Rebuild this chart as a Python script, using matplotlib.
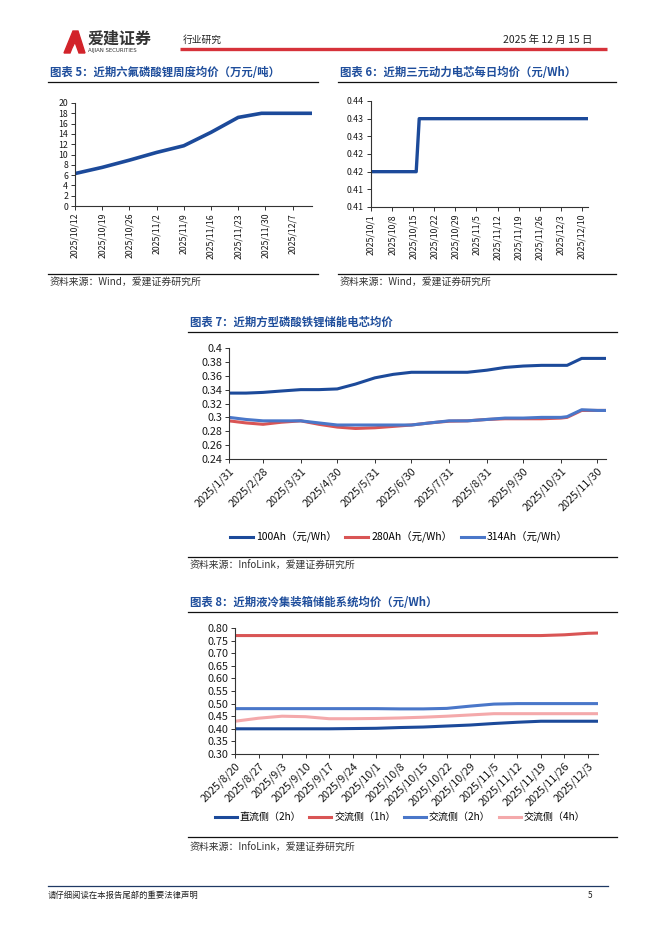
import datetime as dt
import matplotlib
matplotlib.use("Agg")
import matplotlib.pyplot as plt
from matplotlib.patches import Polygon
from matplotlib.ticker import FixedLocator, FixedFormatter

plt.rcParams['font.family'] = ['Noto Sans CJK SC', 'DejaVu Sans']

W, H = 662, 936
TITLE_BLUE = "#1f4e9c"

# ---------- data ----------
# chart 5: LiPF6 weekly price (10k yuan / t)
c5_dates = ["2025-10-12", "2025-10-19", "2025-10-26", "2025-11-02", "2025-11-09",
            "2025-11-16", "2025-11-23", "2025-11-29", "2025-12-07", "2025-12-12"]
c5_values = [6.3, 7.5, 8.9, 10.4, 11.7, 14.3, 17.2, 18.0, 18.0, 18.0]
c5_ticks = ["2025-10-12", "2025-10-19", "2025-10-26", "2025-11-02", "2025-11-09",
            "2025-11-16", "2025-11-23", "2025-11-30", "2025-12-07"]

# chart 6: NCM power cell daily price (yuan / Wh)
c6_dates = ["2025-10-01", "2025-10-16", "2025-10-17", "2025-12-12"]
c6_values = [0.42, 0.42, 0.435, 0.435]
c6_ticks = ["2025-10-01", "2025-10-08", "2025-10-15", "2025-10-22", "2025-10-29",
            "2025-11-05", "2025-11-12", "2025-11-19", "2025-11-26", "2025-12-03",
            "2025-12-10"]
c6_yticks = [0.41, 0.415, 0.42, 0.425, 0.43, 0.435, 0.44]

# chart 7: LFP storage cells (yuan / Wh)
c7_dates = ["2025-01-31", "2025-02-14", "2025-02-28", "2025-03-15", "2025-03-31",
            "2025-04-15", "2025-04-30", "2025-05-15", "2025-05-31", "2025-06-15",
            "2025-06-30", "2025-07-15", "2025-07-31", "2025-08-15", "2025-08-31",
            "2025-09-15", "2025-09-30", "2025-10-15", "2025-10-31", "2025-11-05",
            "2025-11-11", "2025-11-17", "2025-11-30", "2025-12-07"]
c7_100ah = [0.335, 0.335, 0.336, 0.338, 0.340, 0.340, 0.341, 0.348, 0.357, 0.362,
            0.365, 0.365, 0.365, 0.365, 0.368, 0.372, 0.374, 0.375, 0.375, 0.375,
            0.380, 0.385, 0.385, 0.385]
c7_280ah = [0.295, 0.292, 0.290, 0.293, 0.295, 0.290, 0.286, 0.284, 0.285, 0.287,
            0.289, 0.292, 0.2945, 0.295, 0.297, 0.298, 0.298, 0.298, 0.299, 0.300,
            0.305, 0.310, 0.310, 0.310]
c7_314ah = [0.300, 0.297, 0.295, 0.295, 0.295, 0.292, 0.289, 0.289, 0.289, 0.289,
            0.289, 0.292, 0.295, 0.295, 0.297, 0.299, 0.299, 0.300, 0.300, 0.301,
            0.306, 0.311, 0.310, 0.310]
c7_ticks = ["2025-01-31", "2025-02-28", "2025-03-31", "2025-04-30", "2025-05-31",
            "2025-06-30", "2025-07-31", "2025-08-31", "2025-09-30", "2025-10-31",
            "2025-11-30"]
c7_labels = ["100Ah（元/Wh）", "280Ah（元/Wh）", "314Ah（元/Wh）"]

# chart 8: liquid-cooled container ESS (yuan / Wh)
c8_dates = ["2025-08-20", "2025-08-27", "2025-09-03", "2025-09-10", "2025-09-17",
            "2025-09-24", "2025-10-01", "2025-10-08", "2025-10-15", "2025-10-22",
            "2025-10-29", "2025-11-05", "2025-11-12", "2025-11-19", "2025-11-26",
            "2025-12-03", "2025-12-06"]
c8_dc2h = [0.40, 0.40, 0.40, 0.40, 0.40, 0.401, 0.402, 0.405, 0.407, 0.411,
           0.415, 0.421, 0.426, 0.430, 0.430, 0.430, 0.430]
c8_ac1h = [0.77, 0.77, 0.77, 0.77, 0.77, 0.77, 0.77, 0.77, 0.77, 0.77,
           0.77, 0.77, 0.77, 0.77, 0.773, 0.779, 0.78]
c8_ac2h = [0.48, 0.48, 0.48, 0.48, 0.48, 0.48, 0.48, 0.479, 0.479, 0.481,
           0.490, 0.498, 0.500, 0.500, 0.500, 0.500, 0.500]
c8_ac4h = [0.43, 0.442, 0.450, 0.448, 0.440, 0.440, 0.441, 0.443, 0.446, 0.450,
           0.455, 0.460, 0.460, 0.460, 0.460, 0.460, 0.460]
c8_labels = ["直流侧（2h）", "交流侧（1h）", "交流侧（2h）", "交流侧（4h）"]


def d(s):
    return dt.datetime.strptime(s, "%Y-%m-%d")


def lab(s):
    t = d(s)
    return f"{t.year}/{t.month}/{t.day}"


def px_axes(fig, x0, y0, x1, y1):
    return fig.add_axes([x0 / W, 1 - y1 / H, (x1 - x0) / W, (y1 - y0) / H])


def style(ax, fs):
    for s in ["top", "right"]:
        ax.spines[s].set_visible(False)
    for s in ["left", "bottom"]:
        ax.spines[s].set_color("#333333")
        ax.spines[s].set_linewidth(0.8)
    ax.tick_params(axis="both", direction="out", length=3, width=0.7,
                   colors="#333333", labelcolor="#1a1a1a", labelsize=fs, pad=2)


fig = plt.figure(figsize=(W / 100, H / 100), dpi=100)

# page overlay in pixel coordinates
bg = fig.add_axes([0, 0, 1, 1])
bg.set_xlim(0, W)
bg.set_ylim(H, 0)
bg.axis("off")

# header
bg.add_patch(Polygon([(64, 53), (73, 31), (78, 31), (85, 53), (79, 53), (75, 42),
                      (72, 48), (70, 53)], closed=True, color="#d2232a"))
bg.text(88, 39, "爱建证券", fontsize=11.5, fontweight="bold", color="#333333",
        va="center", ha="left")
bg.text(88, 50.5, "AIJIAN SECURITIES", fontsize=3.9, color="#333333", va="center",
        ha="left", family="DejaVu Sans")
bg.text(183, 40, "行业研究", fontsize=7, color="#222222", va="center")
bg.text(592, 40, "2025 年 12 月 15 日", fontsize=7.5, color="#222222", va="center",
        ha="right")
bg.plot([180, 607], [48.5, 48.5], color="#d6323a", lw=2.4, solid_capstyle="butt")

# footer
bg.plot([48, 608], [886, 886], color="#1f3864", lw=0.9)
bg.text(48, 895, "请仔细阅读在本报告尾部的重要法律声明", fontsize=6, color="#222222",
        va="center")
bg.text(592, 895, "5", fontsize=6, color="#222222", va="center", ha="right")

# titles, rules and sources
blocks = [
    (50, 73, 48, 318, 82, 274, 282, "图表 5：近期六氟磷酸锂周度均价（万元/吨）", "Wind"),
    (340, 73, 338, 616, 82, 274, 282, "图表 6：近期三元动力电芯每日均价（元/Wh）", "Wind"),
    (190, 322, 188, 617, 332, 557, 566, "图表 7：近期方型磷酸铁锂储能电芯均价", "InfoLink"),
    (190, 602, 188, 617, 612, 837, 848, "图表 8：近期液冷集装箱储能系统均价（元/Wh）", "InfoLink"),
]
for tx, ty, lx0, lx1, ly, sy, sty, title, src in blocks:
    bg.text(tx, ty, title, fontsize=8.2, fontweight="bold", color=TITLE_BLUE,
            va="center", ha="left")
    bg.plot([lx0, lx1], [ly, ly], color="#111111", lw=0.9)
    bg.plot([lx0, lx1], [sy, sy], color="#111111", lw=0.9)
    bg.text(tx, sty, f"资料来源：{src}，爱建证券研究所", fontsize=7.1, color="#333333",
            va="center", ha="left")

# ---------- chart 5 ----------
ax5 = px_axes(fig, 75, 103, 312, 206)
ax5.plot([d(s) for s in c5_dates], c5_values, color="#1c4a9a", lw=2.6)
ax5.set_xlim(d(c5_dates[0]), d(c5_dates[-1]))
ax5.set_ylim(0, 20)
ax5.set_yticks(range(0, 21, 2))
ax5.set_xticks([d(s) for s in c5_ticks])
ax5.set_xticklabels([lab(s) for s in c5_ticks], rotation=90)
style(ax5, 6.3)

# ---------- chart 6 ----------
ax6 = px_axes(fig, 371, 101, 588, 207)
ax6.plot([d(s) for s in c6_dates], c6_values, color="#1c4a9a", lw=2.4)
ax6.set_xlim(d(c6_dates[0]), d(c6_dates[-1]))
ax6.set_ylim(0.41, 0.44)
ax6.yaxis.set_major_locator(FixedLocator(c6_yticks))
ax6.yaxis.set_major_formatter(FixedFormatter(["%.2f" % v for v in c6_yticks]))
ax6.set_xticks([d(s) for s in c6_ticks])
ax6.set_xticklabels([lab(s) for s in c6_ticks], rotation=90)
style(ax6, 6.3)

# ---------- chart 7 ----------
ax7 = px_axes(fig, 229, 348, 606, 459)
x7 = [d(s) for s in c7_dates]
ax7.plot(x7, c7_100ah, color="#1c4a9a", lw=2.2, label=c7_labels[0])
ax7.plot(x7, c7_280ah, color="#d95555", lw=2.2, label=c7_labels[1])
ax7.plot(x7, c7_314ah, color="#4a77c9", lw=2.2, label=c7_labels[2])
ax7.set_xlim(x7[0], x7[-1])
ax7.set_ylim(0.24, 0.40)
ax7.set_yticks([0.24, 0.26, 0.28, 0.30, 0.32, 0.34, 0.36, 0.38, 0.40])
ax7.set_yticklabels(["0.24", "0.26", "0.28", "0.3", "0.32", "0.34", "0.36", "0.38", "0.4"])
ax7.set_xticks([d(s) for s in c7_ticks])
ax7.set_xticklabels([lab(s) for s in c7_ticks], rotation=45, ha="right",
                    rotation_mode="anchor")
style(ax7, 7.8)
fig.legend(*ax7.get_legend_handles_labels(), loc="center", ncol=3,
           bbox_to_anchor=(399 / W, 1 - 537 / H), frameon=False, fontsize=7.5,
           handlelength=2.2, columnspacing=0.8, handletextpad=0.3)

# ---------- chart 8 ----------
ax8 = px_axes(fig, 235, 628, 598, 754)
x8 = [d(s) for s in c8_dates]
ax8.plot(x8, c8_dc2h, color="#1c4a9a", lw=2.2, label=c8_labels[0])
ax8.plot(x8, c8_ac1h, color="#d95555", lw=2.2, label=c8_labels[1])
ax8.plot(x8, c8_ac2h, color="#4a77c9", lw=2.2, label=c8_labels[2])
ax8.plot(x8, c8_ac4h, color="#f4a9ab", lw=2.2, label=c8_labels[3])
ax8.set_xlim(x8[0], x8[-1])
ax8.set_ylim(0.30, 0.80)
yt8 = [0.30, 0.35, 0.40, 0.45, 0.50, 0.55, 0.60, 0.65, 0.70, 0.75, 0.80]
ax8.set_yticks(yt8)
ax8.set_yticklabels(["%.2f" % v for v in yt8])
ax8.set_xticks(x8[:16])
ax8.set_xticklabels([lab(s) for s in c8_dates[:16]], rotation=45, ha="right",
                    rotation_mode="anchor")
style(ax8, 7.8)
fig.legend(*ax8.get_legend_handles_labels(), loc="center", ncol=4,
           bbox_to_anchor=(400 / W, 1 - 817 / H), frameon=False, fontsize=7.2,
           handlelength=2.2, columnspacing=0.8, handletextpad=0.3)

fig.savefig("out.png", dpi=100)
